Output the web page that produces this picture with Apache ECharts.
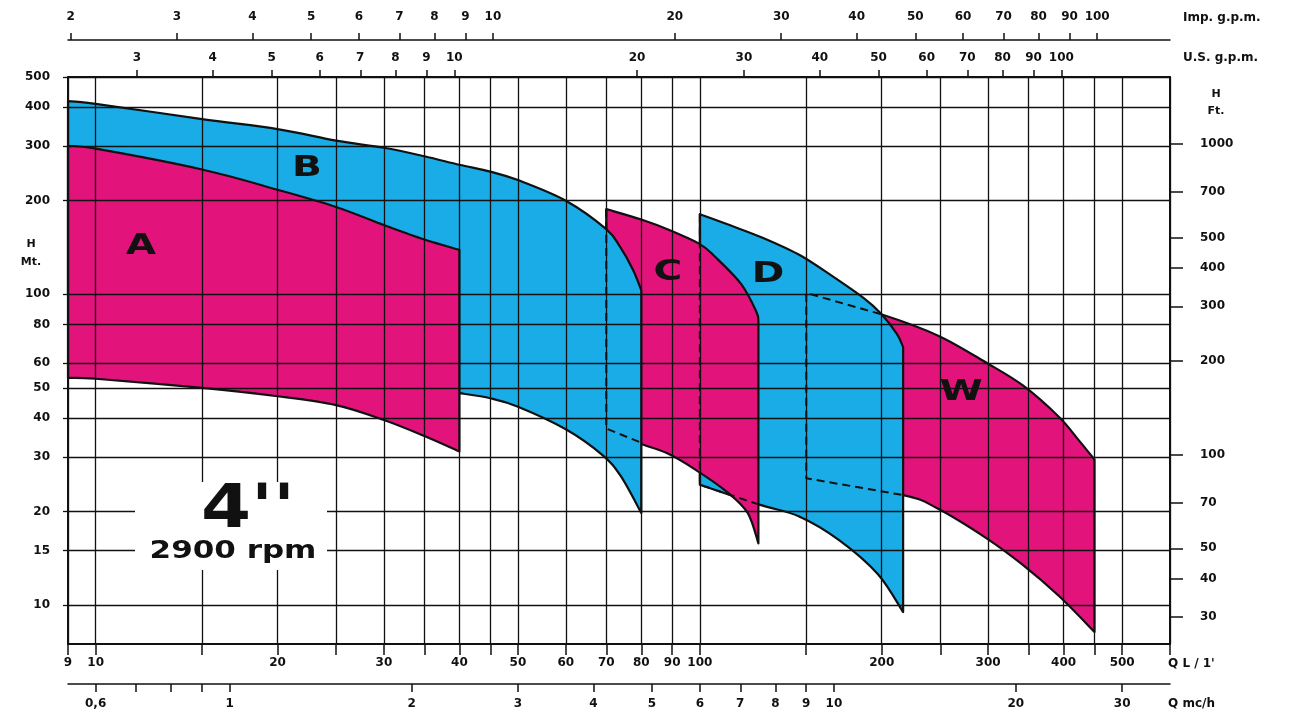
<!DOCTYPE html>
<html><head><meta charset="utf-8">
<script src="https://cdn.jsdelivr.net/npm/echarts@6/dist/echarts.min.js"></script>
<style>html,body{margin:0;padding:0;background:#fff}#c{width:1290px;height:718px}</style>
</head><body><div id="c"></div>
<script>
// ---- axis ticks / labels ----
const qLminGrid   = [9,10,15,20,25,30,35,40,45,50,60,70,80,90,100,150,200,250,300,350,400,450,500,600];
const qLminLabels = [9,10,20,30,40,50,60,70,80,90,100,200,300,400,500];
const usGpmTicks  = [3,4,5,6,7,8,9,10,20,30,40,50,60,70,80,90,100];
const impGpmTicks = [2,3,4,5,6,7,8,9,10,20,30,40,50,60,70,80,90,100];
const m3hTicks    = [0.6,0.7,0.8,0.9,1,2,3,4,5,6,7,8,9,10,20,30];
const m3hLabels   = [0.6,1,2,3,4,5,6,7,8,9,10,20,30];
const hMetreTicks = [10,15,20,30,40,50,60,80,100,200,300,400,500];
const hFeetTicks  = [30,40,50,70,100,200,300,400,500,700,1000];

// ---- pump ranges (Q in L/min, H in m) ----
const aTopQ = [9,10,15,20,25,30,35,40];
const aTopH = [300,294,252,217,191,167,150,139];
const aBotQ = [9,10,15,20,25,30,35,40];
const aBotH = [53.8,53.5,50,47,44,39.4,35,31.2];

const bTopQ = [9,10,15,20,25,30,35,40,45,50,60,70,73.8,77.5,80];
const bTopH = [418,410,366,340,312,296,278,261,248,233,200,162,142,120,103];
const bBotQ = [40,45,50,60,69,74,80];
const bBotH = [48.1,46.3,43.5,36.8,30.4,26,19.8];
const bHiddenQ = [9];     // part of B's lower edge hidden behind A
const bHiddenH = [100];

const cTopQ = [70,80,89,100,106,117,124,125];
const cTopH = [188,174,161,145,132,108,88,82];
const cBotQ = [70,79,88,98,111,120,125];
const cBotH = [37,33.3,30.9,27.4,23.1,19.8,15.8];

const dTopQ = [100,112,127,146,165,187,199,212,217];
const dTopH = [181,167,152,134,115,97,87,74.5,67.6];
const dBotQ = [100,125,146,170,197,217];
const dBotH = [24.4,21.1,19.3,16.2,12.6,9.5];

const wTopQ = [150,199,248,299,343,393,424,450];
const wTopH = [101,86.4,73.6,60,50.8,40.3,33.9,29.4];
const wBotQ = [150,217,247,297,342,393,450];
const wBotH = [25.6,22.6,20.5,16.5,13.5,10.7,8.2];

// hidden outlines (dashed)
const dashCQ = [70,70,80];        const dashCH = [188,37,33.3];
const dashDQ = [100,100,125];     const dashDH = [181,24.4,21.1];
const dashWQ = [199,150,150,217]; const dashWH = [86.4,101,25.6,22.6];

const PINK = '#E2147C', BLUE = '#19ACE6', INK = '#111';
const FONT = '"DejaVu Sans", sans-serif';

function smooth(pts){
  let s='';
  for(let i=0;i<pts.length-1;i++){
    const p0=pts[i-1]||pts[i], p1=pts[i], p2=pts[i+1], p3=pts[i+2]||p2, t=1/6;
    const c1=[p1[0]+(p2[0]-p0[0])*t, p1[1]+(p2[1]-p0[1])*t];
    const c2=[p2[0]-(p3[0]-p1[0])*t, p2[1]-(p3[1]-p1[1])*t];
    s+=' C'+c1[0]+','+c1[1]+' '+c2[0]+','+c2[1]+' '+p2[0]+','+p2[1];
  }
  return s;
}
function region(topQ,topH,botQ,botH,color,z,hidQ,hidH){
  return {
    type:'custom', coordinateSystem:'cartesian2d', xAxisIndex:0, yAxisIndex:0, z:z, silent:true,
    data:[[100,100]], encode:{x:0,y:1},
    renderItem:function(params,api){
      const top=topQ.map((q,i)=>api.coord([q,topH[i]]));
      const bot=botQ.map((q,i)=>api.coord([q,botH[i]])).reverse();
      let d='M'+top[0][0]+','+top[0][1]+smooth(top);
      d+=' L'+bot[0][0]+','+bot[0][1]+smooth(bot);
      (hidQ||[]).forEach((q,i)=>{const p=api.coord([q,hidH[i]]); d+=' L'+p[0]+','+p[1];});
      d+=' Z';
      return {type:'path', shape:{pathData:d},
        style:{fill:color, stroke:INK, lineWidth:2.2, lineJoin:'round'}};
    }
  };
}
function dashed(q,h){
  return {type:'line', xAxisIndex:0, yAxisIndex:0, z:6, silent:true, symbol:'none',
    data:q.map((v,i)=>[v,h[i]]),
    lineStyle:{color:INK, width:2, type:[8,5]}};
}
const plain = v=>String(v);
const lbl = (extra)=>Object.assign({color:INK, fontSize:12, fontWeight:'bold', fontFamily:FONT, formatter:plain}, extra);
const noSplit = {show:false};
const line2 = {show:true, lineStyle:{color:INK, width:2}};

const chart = echarts.init(document.getElementById('c'), null, {renderer:'canvas'});
const option = {
  animation:false, backgroundColor:'#fff',
  grid:{left:68, right:120, top:77, bottom:74},
  xAxis:[
    {type:'log', min:9, max:600, position:'bottom', z:10,
     axisLine:line2,
     axisTick:{show:true, customValues:qLminGrid, length:11, lineStyle:{color:INK,width:1.5}},
     axisLabel:lbl({customValues:qLminLabels, margin:13}),
     splitLine:{show:true, lineStyle:{color:INK, width:1.3}}, minorTick:{show:false}},
    {type:'log', min:2.31, max:151, position:'top', offset:0, z:10,
     axisLine:line2,
     axisTick:{show:true, customValues:usGpmTicks, length:7, lineStyle:{color:INK,width:1.5}},
     axisLabel:lbl({customValues:usGpmTicks, margin:13}), splitLine:noSplit},
    {type:'log', min:1.98, max:132, position:'top', offset:37, z:10,
     axisLine:{show:true, lineStyle:{color:INK, width:1.5}},
     axisTick:{show:true, customValues:impGpmTicks, length:7, lineStyle:{color:INK,width:1.5}},
     axisLabel:lbl({customValues:impGpmTicks, margin:17}), splitLine:noSplit},
    {type:'log', min:0.54, max:36, position:'bottom', offset:40, z:10,
     axisLine:{show:true, lineStyle:{color:INK, width:1.5}},
     axisTick:{show:true, customValues:m3hTicks, length:8, lineStyle:{color:INK,width:1.5}},
     axisLabel:lbl({customValues:m3hLabels, margin:14, formatter:v=>String(v).replace('.',',')}),
     splitLine:noSplit}
  ],
  yAxis:[
    {type:'log', min:7.5, max:500, position:'left', z:10,
     axisLine:line2,
     axisTick:{show:true, customValues:hMetreTicks, length:5, lineStyle:{color:INK,width:1.3}},
     axisLabel:lbl({customValues:hMetreTicks, margin:18}),
     splitLine:{show:true, lineStyle:{color:INK, width:1.3}}, minorTick:{show:false}},
    {type:'log', min:7.5*3.28084, max:500*3.28084, position:'right', z:10,
     axisLine:line2,
     axisTick:{show:true, customValues:hFeetTicks, length:13, lineStyle:{color:INK,width:1.5}},
     axisLabel:lbl({customValues:hFeetTicks, margin:30}), splitLine:noSplit}
  ],
  series:[
    region(wTopQ,wTopH,wBotQ,wBotH,PINK,1),
    region(dTopQ,dTopH,dBotQ,dBotH,BLUE,2),
    region(cTopQ,cTopH,cBotQ,cBotH,PINK,3),
    region(bTopQ,bTopH,bBotQ,bBotH,BLUE,4,bHiddenQ,bHiddenH),
    region(aTopQ,aTopH,aBotQ,aBotH,PINK,5),
    dashed(dashCQ,dashCH), dashed(dashDQ,dashDH), dashed(dashWQ,dashWH)
  ],
  graphic:[
    {type:'rect', z:100, shape:{x:135,y:482,width:192,height:88}, style:{fill:'#fff'}},
    {type:'text', z:101, x:248, y:511, scaleX:1.2, style:{text:"4''", font:'bold 60px '+FONT, fill:INK, align:'center', verticalAlign:'middle'}},
    {type:'text', z:101, x:233, y:551, scaleX:1.24, style:{text:'2900 rpm', font:'bold 25px '+FONT, fill:INK, align:'center', verticalAlign:'middle'}},
    ...[['A',141,247],['B',307,169],['C',668,273],['D',768,275],['W',961,393]].map(a=>(
      {type:'text', z:101, x:a[1], y:a[2], scaleX:1.4, style:{text:a[0], font:'bold 28px '+FONT, fill:INK, align:'center', verticalAlign:'middle'}})),
    {type:'text', z:101, x:1183, y:18, style:{text:'Imp. g.p.m.', font:'bold 12px '+FONT, fill:INK, align:'left', verticalAlign:'middle'}},
    {type:'text', z:101, x:1183, y:58, style:{text:'U.S. g.p.m.', font:'bold 12px '+FONT, fill:INK, align:'left', verticalAlign:'middle'}},
    {type:'text', z:101, x:1216, y:94, style:{text:'H', font:'bold 11px '+FONT, fill:INK, align:'center', verticalAlign:'middle'}},
    {type:'text', z:101, x:1216, y:111, style:{text:'Ft.', font:'bold 11px '+FONT, fill:INK, align:'center', verticalAlign:'middle'}},
    {type:'text', z:101, x:31, y:244, style:{text:'H', font:'bold 11px '+FONT, fill:INK, align:'center', verticalAlign:'middle'}},
    {type:'text', z:101, x:31, y:262, style:{text:'Mt.', font:'bold 11px '+FONT, fill:INK, align:'center', verticalAlign:'middle'}},
    {type:'text', z:101, x:1168, y:664, style:{text:"Q L / 1'", font:'bold 12px '+FONT, fill:INK, align:'left', verticalAlign:'middle'}},
    {type:'text', z:101, x:1168, y:704, style:{text:'Q mc/h', font:'bold 12px '+FONT, fill:INK, align:'left', verticalAlign:'middle'}}
  ]
};
chart.setOption(option);
</script></body></html>
